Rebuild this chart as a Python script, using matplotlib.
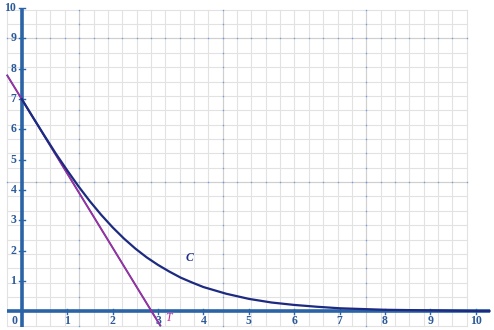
import numpy as np
import matplotlib
matplotlib.use('Agg')
import matplotlib.pyplot as plt

# courbe C
x_c = [0, 0.25, 0.5, 0.75, 1, 1.25, 1.5, 1.75, 2, 2.25, 2.5, 2.75, 3, 3.25, 3.5, 3.75, 4, 4.5, 5, 5.5, 6, 6.5, 7, 8, 9, 10, 10.3]
y_c = [7.0, 6.39, 5.79, 5.2, 4.65, 4.12, 3.63, 3.18, 2.77, 2.4, 2.07, 1.78, 1.53, 1.31, 1.11, 0.95, 0.8, 0.58, 0.41, 0.29, 0.21, 0.15, 0.1, 0.05, 0.03, 0.01, 0.01]

# tangente T (deux points lus)
x_t = [-0.32, 3.05]
y_t = [7.78, -0.47]

x_ticks = [1, 2, 3, 4, 5, 6, 7, 8, 9, 10]
y_ticks = [1, 2, 3, 4, 5, 6, 7, 8, 9, 10]

AX_COL = '#2a63a6'
LBL_COL = '#2b5a98'

fig = plt.figure(figsize=(4.94, 3.30), dpi=100)
ax = fig.add_axes([0, 0, 1, 1])
ax.set_xlim(-0.48, 10.40)
ax.set_ylim(-0.617, 10.27)
ax.axis('off')

# quadrillage papier
sx = 0.3161
sy = 9 / 19
gx = [k * sx for k in range(-1, 32)]
gy = [9 - k * sy for k in range(-2, 21)]
for v in gx:
    ax.plot([v, v], [gy[-1], gy[0]], color='#e2e2e2', lw=0.8, zorder=1)
for v in gy:
    ax.plot([gx[0], gx[-1]], [v, v], color='#e2e2e2', lw=0.8, zorder=1)
for k in (4, 14, 24):
    v = gx[k + 1]
    ax.plot([v, v], [gy[-1], gy[0]], color='#cfcfcf', lw=0.8, zorder=1.5)
    ax.plot([v] * len(gy), gy, ls='none', marker='s', ms=0.9, mec='none', mfc='#6a9ee0', zorder=1.6)
for k in (0, 10):
    v = gy[k + 2]
    ax.plot([gx[0], gx[-1]], [v, v], color='#cfcfcf', lw=0.8, zorder=1.5)
    ax.plot(gx, [v] * len(gx), ls='none', marker='s', ms=0.9, mec='none', mfc='#6a9ee0', zorder=1.6)

# axes
ax.plot([-0.33, 10.31], [0, 0], color=AX_COL, lw=2.6, zorder=3, solid_capstyle='butt')
ax.plot([0, 0], [-0.52, 10.0], color=AX_COL, lw=2.6, zorder=3, solid_capstyle='butt')
fnt = dict(fontsize=8.5, family='Liberation Serif', fontweight='bold', color=LBL_COL, zorder=4)
for t in x_ticks:
    ax.plot([t, t], [-0.08, 0.08], color=AX_COL, lw=1.0, zorder=3)
    ax.text(t, -0.31, str(t), ha='center', va='center', **fnt)
for t in y_ticks:
    ax.plot([-0.06, 0.06], [t, t], color=AX_COL, lw=1.0, zorder=3)
    ax.text(-0.12, t, str(t), ha='right', va='center', **fnt)
ax.text(-0.16, -0.31, '0', ha='center', va='center', **fnt)

# tangente et courbe
ax.plot(x_t, y_t, color='#3a48a8', lw=1.4, zorder=4)
ax.plot(x_t, y_t, color='#c8209a', lw=0.8, zorder=4.1)
ax.plot(x_c, y_c, color='#1c2a80', lw=1.6, zorder=5, solid_joinstyle='round')

ax.text(3.69, 1.77, 'C', ha='center', va='center', fontsize=8.5, family='Liberation Serif',
        style='italic', fontweight='bold', color='#1f2e8a', zorder=6)
ax.text(3.24, -0.22, 'T', ha='center', va='center', fontsize=8.5, family='Liberation Serif',
        style='italic', color='#c8209a', zorder=6)

fig.savefig('out.png', dpi=100)
